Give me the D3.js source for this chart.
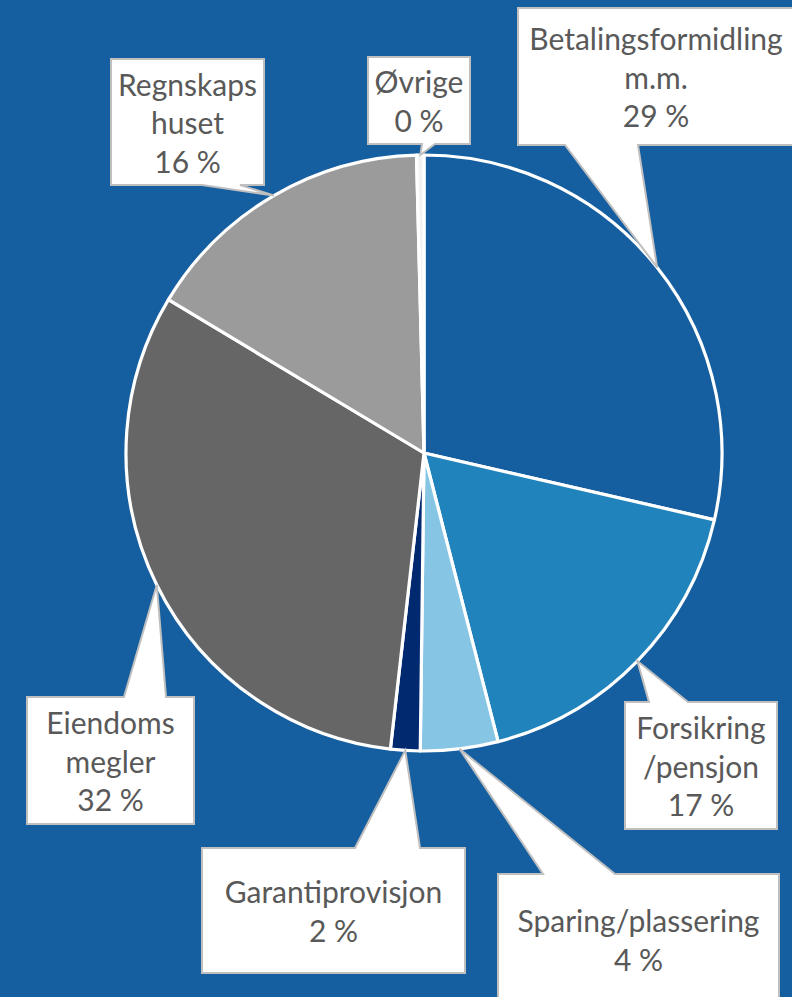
<!DOCTYPE html>
<html>
<head>
<meta charset="utf-8">
<script src="https://cdn.jsdelivr.net/npm/d3@7"></script>
<style>
  html, body { margin: 0; padding: 0; background: #155EA0; }
  svg { display: block; }
</style>
</head>
<body>
<svg id="chart" width="792" height="997"></svg>
<script>
// Income distribution by product area (share of total, %)
const categories = [
  "Betalingsformidling m.m.",
  "Forsikring /pensjon",
  "Sparing/plassering",
  "Garantiprovisjon",
  "Eiendoms megler",
  "Regnskaps huset",
  "Øvrige"
];
const labelLines = [
  ["Betalingsformidling", "m.m."],
  ["Forsikring", "/pensjon"],
  ["Sparing/plassering"],
  ["Garantiprovisjon"],
  ["Eiendoms", "megler"],
  ["Regnskaps", "huset"],
  ["Øvrige"]
];
const shares = [28.6, 17.4, 4.2, 1.6, 31.8, 16.0, 0.4];
const sliceColors = ["#155EA0", "#2183BC", "#87C5E5", "#002970", "#666666", "#9B9B9B", "#F2F2F2"];

// Callout boxes: rectangle, side the pointer leaves from, and the pointer base span
const callouts = [
  { x0: 518, y0: 8,   x1: 794, y1: 145, side: "bottom", b1: 565, b2: 638 },
  { x0: 625, y0: 702, x1: 777, y1: 829, side: "top",    b1: 649, b2: 688 },
  { x0: 498, y0: 874, x1: 779, y1: 1005, side: "top",   b1: 543, b2: 615 },
  { x0: 202, y0: 848, x1: 465, y1: 973, side: "top",    b1: 355, b2: 420 },
  { x0: 27,  y0: 697, x1: 194, y1: 824, side: "top",    b1: 124, b2: 166 },
  { x0: 111, y0: 59,  x1: 264, y1: 185, side: "bottom", b1: 202, b2: 240 },
  { x0: 368, y0: 57,  x1: 470, y1: 144, side: "bottom", b1: 422, b2: 435 }
];

const width = 792, height = 997;
const cx = 424, cy = 453, radius = 298;

const svg = d3.select("#chart");
svg.append("rect").attr("width", width).attr("height", height).attr("fill", "#155EA0");

const data = categories.map((c, i) => ({ name: c, value: shares[i], lines: labelLines[i], color: sliceColors[i], box: callouts[i] }));

const pie = d3.pie().sort(null).value(d => d.value);
const arc = d3.arc().innerRadius(0).outerRadius(radius);
const arcs = pie(data);

const g = svg.append("g").attr("transform", `translate(${cx},${cy})`);
g.selectAll("path.slice")
  .data(arcs)
  .join("path")
  .attr("class", "slice")
  .attr("d", arc)
  .attr("fill", d => d.data.color)
  .attr("stroke", "#FFFFFF")
  .attr("stroke-width", 3.2)
  .attr("stroke-linejoin", "round");

// Pointer tip sits on the rim at each slice's mid angle
function tipOf(a) {
  const m = (a.startAngle + a.endAngle) / 2;
  return [cx + radius * Math.sin(m), cy - radius * Math.cos(m)];
}

function calloutPath(b, tip) {
  const p = d3.path();
  if (b.side === "bottom") {
    p.moveTo(b.x0, b.y0);
    p.lineTo(b.x1, b.y0);
    p.lineTo(b.x1, b.y1);
    p.lineTo(b.b2, b.y1);
    p.lineTo(tip[0], tip[1]);
    p.lineTo(b.b1, b.y1);
    p.lineTo(b.x0, b.y1);
  } else {
    p.moveTo(b.x0, b.y0);
    p.lineTo(b.b1, b.y0);
    p.lineTo(tip[0], tip[1]);
    p.lineTo(b.b2, b.y0);
    p.lineTo(b.x1, b.y0);
    p.lineTo(b.x1, b.y1);
    p.lineTo(b.x0, b.y1);
  }
  p.closePath();
  return p.toString();
}

const fs = 30, lh = 38.5;
const labels = svg.append("g").attr("class", "labels");
arcs.forEach(a => {
  const b = a.data.box;
  const tip = tipOf(a);
  labels.append("path")
    .attr("d", calloutPath(b, tip))
    .attr("fill", "#FFFFFF")
    .attr("stroke", "#BFBFBF")
    .attr("stroke-width", 2)
    .attr("stroke-linejoin", "miter");

  const lines = a.data.lines.concat([d3.format(".0f")(a.data.value) + " %"]);
  const mx = (b.x0 + Math.min(b.x1, width + 2)) / 2;
  const my = (b.y0 + b.y1) / 2;
  const t = labels.append("text")
    .attr("text-anchor", "middle")
    .attr("font-family", "Lato, 'Open Sans', sans-serif")
    .attr("font-size", fs)
    .attr("fill", "#595959");
  lines.forEach((ln, i) => {
    t.append("tspan")
      .attr("x", mx)
      .attr("y", my + (i - (lines.length - 1) / 2) * lh + fs * 0.4)
      .text(ln);
  });
});
</script>
</body>
</html>
